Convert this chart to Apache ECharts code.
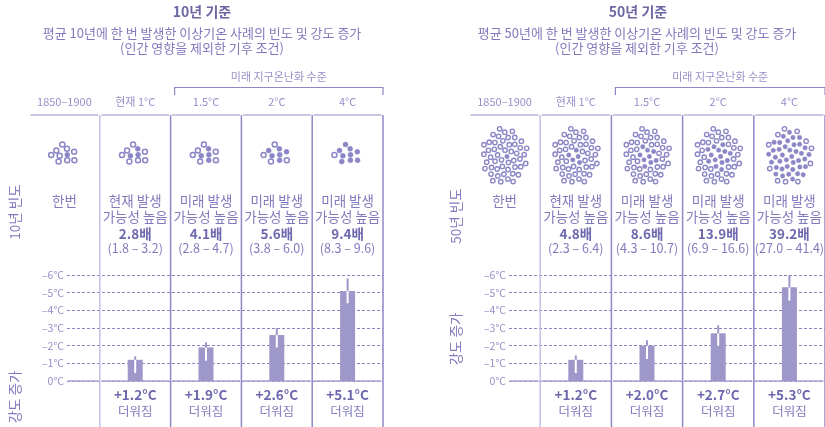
<!DOCTYPE html>
<html><head><meta charset="utf-8">
<script src="https://cdn.jsdelivr.net/npm/echarts@6/dist/echarts.min.js"></script>
<style>html,body{margin:0;padding:0;background:#fff}#c{width:825px;height:427px}</style>
</head><body><div id="c"></div>
<script>
// ---------- data ----------
const categories = ['1850–1900', '현재 1°C', '1.5°C', '2°C', '4°C'];
const freqLead = ['한번', '현재 발생', '미래 발생', '미래 발생', '미래 발생'];
const freq10 = [1, 2.8, 4.1, 5.6, 9.4];
const freq10Low = [null, 1.8, 2.8, 3.8, 8.3];
const freq10High = [null, 3.2, 4.7, 6.0, 9.6];
const freq50 = [1, 4.8, 8.6, 13.9, 39.2];
const freq50Low = [null, 2.3, 4.3, 6.9, 27.0];
const freq50High = [null, 6.4, 10.7, 16.6, 41.4];
const warm10 = [null, 1.2, 1.9, 2.6, 5.1];
const warm10Low = [null, 0.45, 1.15, 1.9, 4.4];
const warm10High = [null, 1.4, 2.2, 3.0, 5.8];
const warm50 = [null, 1.2, 2.0, 2.7, 5.3];
const warm50Low = [null, 0.45, 1.25, 2.0, 4.55];
const warm50High = [null, 1.45, 2.3, 3.15, 6.0];
const yMin = 0, yMax = 6, yStep = 1;

// ---------- style ----------
const FONT = '"Noto Sans CJK KR", "Noto Sans", sans-serif';
const C = {
  title: '#6c67a3', text: '#817bbd', strong: '#6d67ad', light: '#9590c8',
  bar: '#9d97ca', dot: '#8c86c6', sep: '#8e88c6', sepLight: '#c4c0e3',
  underline: '#b9b5dc', dash: '#8a84c4', base: '#a9a4d4'
};
const L = { fut: 77, bracket: 87.5, bracketTick: 95, header: 102, underline: 115, bottom: 430,
  l1: 201, l2: 217, l3: 233.5, l4: 248.5, b1: 395, b2: 411 };

function fmt(v) { return v.toFixed(1); }

function decor(panel) {
  return function (params, api) {
    const i = api.value(0);
    const c0 = api.coord([i, 0]);
    const bw = api.size([1, 0])[0];
    const cx = c0[0], y0 = c0[1];
    const x0 = cx - bw / 2, x1 = cx + bw / 2;
    const ch = [];
    const txt = (t, x, y, font, fill) => ch.push({ type: 'text', style: { text: t, x: x, y: y, align: 'center', verticalAlign: 'middle', font: font, fill: fill } });
    const line = (a, b, c, d, stroke, w) => ch.push({ type: 'line', shape: { x1: a, y1: b, x2: c, y2: d }, style: { stroke: stroke, lineWidth: w } });
    txt(categories[i], cx, L.header, '11px ' + FONT, C.light);
    line(x0 + 1.5, L.underline, x1 - 1.5, L.underline, C.underline, 1.3);
    line(x1, L.underline, x1, L.bottom, i === 0 ? C.sepLight : C.sep, 1.5);
    line(i === 0 ? panel.baseStart : x0 + 1.5, y0, x1 - 1.5, y0, C.base, 1.5);
    if (i === 2) {
      const e = api.coord([4, 0])[0] + bw / 2;
      const s = x0 + 4;
      ch.push({ type: 'polyline', shape: { points: [[s, L.bracketTick], [s, L.bracket], [e, L.bracket], [e, L.bracketTick]] }, style: { stroke: C.sep, lineWidth: 1.2, fill: null } });
      txt('미래 지구온난화 수준', (s + e) / 2, L.fut, '11px ' + FONT, C.light);
    }
    // dots
    const total = panel.total, filled = Math.round(panel.freq[i]);
    const d = panel.dots;
    for (let k = 0; k < total; k++) {
      const r = d.c * Math.sqrt(k + 0.5), th = k * 2.39996 + d.rot;
      const px = cx + r * Math.cos(th), py = d.cy + r * Math.sin(th) * d.sy;
      ch.push({ type: 'circle', shape: { cx: px, cy: py, r: d.r },
        style: k < filled ? { fill: C.dot, stroke: C.dot, lineWidth: 0.5 } : { fill: '#fff', stroke: C.dot, lineWidth: d.lw } });
    }
    // frequency text
    txt(freqLead[i], cx, L.l1, '13.5px ' + FONT, C.text);
    if (i > 0) {
      txt('가능성 높음', cx, L.l2, '13.5px ' + FONT, C.text);
      txt(fmt(panel.freq[i]) + '배', cx, L.l3, 'bold 13.5px ' + FONT, C.strong);
      txt('(' + fmt(panel.low[i]) + ' – ' + fmt(panel.high[i]) + ')', cx, L.l4, '12.5px ' + FONT, C.text);
      txt('+' + fmt(panel.warm[i]) + '°C', cx, L.b1, 'bold 13.5px ' + FONT, C.strong);
      txt('더워짐', cx, L.b2, '12.5px ' + FONT, C.text);
    }
    return { type: 'group', children: ch };
  };
}

function errItem(params, api) {
  const i = api.value(0);
  const pLo = api.coord([i, api.value(1)]), pV = api.coord([i, api.value(2)]), pHi = api.coord([i, api.value(3)]);
  return { type: 'group', children: [
    { type: 'line', shape: { x1: pLo[0], y1: pLo[1], x2: pV[0], y2: pV[1] }, style: { stroke: '#fff', lineWidth: 2 } },
    { type: 'line', shape: { x1: pV[0], y1: pV[1], x2: pHi[0], y2: pHi[1] }, style: { stroke: C.bar, lineWidth: 2 } }
  ] };
}

const panels = [
  { barLeft: 29, barWidth: 354, axisLeft: 67, axisWidth: 316, baseStart: 67.5, total: 10,
    freq: freq10, low: freq10Low, high: freq10High, warm: warm10, wl: warm10Low, wh: warm10High,
    dots: { c: 4.3, sy: 0.82, cy: 154, r: 2.5, lw: 1.5, rot: 0.3 } },
  { barLeft: 469, barWidth: 357, axisLeft: 509, axisWidth: 317, baseStart: 509.5, total: 50,
    freq: freq50, low: freq50Low, high: freq50High, warm: warm50, wl: warm50Low, wh: warm50High,
    dots: { c: 3.35, sy: 1.2, cy: 156.5, r: 2.2, lw: 1.4, rot: 0 } }
];

const grids = [], xAxes = [], yAxes = [], series = [];
panels.forEach((p, n) => {
  grids.push({ left: p.barLeft, width: p.barWidth, top: 275, height: 106 });
  grids.push({ left: p.axisLeft, width: p.axisWidth, top: 275, height: 106 });
  const gb = n * 2, ga = n * 2 + 1;
  xAxes.push({ type: 'category', gridIndex: gb, data: categories, show: false });
  xAxes.push({ type: 'category', gridIndex: ga, data: categories, show: false });
  yAxes.push({ type: 'value', gridIndex: gb, min: yMin, max: yMax, interval: yStep, show: false });
  yAxes.push({ type: 'value', gridIndex: ga, min: yMin, max: yMax, interval: yStep,
    axisLine: { show: false }, axisTick: { show: false },
    axisLabel: { margin: 3, color: C.light, fontFamily: FONT, fontSize: 10.5,
      formatter: v => v === 0 ? '0°C' : '–' + v + '°C' },
    splitLine: { show: true, lineStyle: { color: C.dash, type: [3, 2], width: 1 } } });
  series.push({ type: 'custom', xAxisIndex: gb, yAxisIndex: gb, z: 3, silent: true,
    renderItem: decor(p), data: categories.map((_, i) => [i, 0]) });
  series.push({ type: 'bar', xAxisIndex: gb, yAxisIndex: gb, z: 4, barWidth: 15, silent: true,
    itemStyle: { color: C.bar }, data: p.warm.map(v => v === null ? '-' : v) });
  series.push({ type: 'custom', xAxisIndex: gb, yAxisIndex: gb, z: 5, silent: true, renderItem: errItem,
    data: p.warm.map((v, i) => [i, p.wl[i], v, p.wh[i]]).filter(d => d[2] !== null) });
});

const gtext = (t, x, y, font, fill, rot) => ({ type: 'text', x: x, y: y, rotation: rot || 0,
  style: { text: t, align: 'center', verticalAlign: 'middle', font: font, fill: fill } });

const graphic = [
  gtext('10년 기준', 202, 12, 'bold 14px ' + FONT, C.title),
  gtext('평균 10년에 한 번 발생한 이상기온 사례의 빈도 및 강도 증가', 202, 33, '13px ' + FONT, C.text),
  gtext('(인간 영향을 제외한 기후 조건)', 202, 48, '13px ' + FONT, C.text),
  gtext('50년 기준', 638, 12, 'bold 14px ' + FONT, C.title),
  gtext('평균 50년에 한 번 발생한 이상기온 사례의 빈도 및 강도 증가', 637, 33, '13px ' + FONT, C.text),
  gtext('(인간 영향을 제외한 기후 조건)', 637, 48, '13px ' + FONT, C.text),
  gtext('10년 빈도', 15, 212, '13.5px ' + FONT, C.text, Math.PI / 2),
  gtext('강도 증가', 15, 397, '13.5px ' + FONT, C.text, Math.PI / 2),
  gtext('50년 빈도', 456, 216, '13.5px ' + FONT, C.text, Math.PI / 2),
  gtext('강도 증가', 456, 339, '13.5px ' + FONT, C.text, Math.PI / 2)
];

const chart = echarts.init(document.getElementById('c'), null, { renderer: 'canvas' });
chart.setOption({ animation: false, backgroundColor: '#fff', grid: grids, xAxis: xAxes, yAxis: yAxes, series: series, graphic: graphic });
</script></body></html>
